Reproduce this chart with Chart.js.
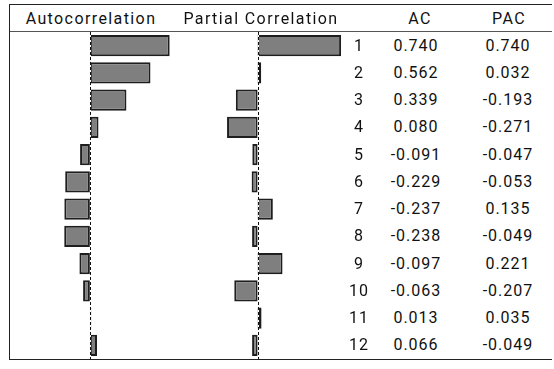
<!DOCTYPE html>
<html>
<head>
<meta charset="utf-8">
<script src="https://cdn.jsdelivr.net/npm/chart.js@4/dist/chart.umd.min.js"></script>
<style>
  html, body { margin:0; padding:0; background:#fff; }
  body { width:554px; height:369px; position:relative; overflow:hidden;
         font-family: Roboto, "DejaVu Sans", sans-serif; color:#111; }
  .line { position:absolute; background:#222; }
  .txt { position:absolute; font-size:16px; letter-spacing:1px; white-space:nowrap;
         transform:translate(-50%,-50%); line-height:1; }
  .hdr { letter-spacing:1.4px; }
  .cv { position:absolute; }
</style>
</head>
<body>
<div class="line" style="left:9px;top:4px;width:543px;height:1.3px;"></div>
<div class="line" style="left:9px;top:31px;width:543px;height:1.3px;background:#555;"></div>
<div class="line" style="left:9px;top:359px;width:543px;height:1.3px;"></div>
<div class="line" style="left:8.5px;top:4px;width:1.6px;height:356px;"></div>

<div class="cv" style="left:9px;top:32px;width:165px;height:327px;"><canvas id="acChart"></canvas></div>
<div class="cv" style="left:173px;top:32px;width:176px;height:327px;"><canvas id="pacChart"></canvas></div>
<div id="texts"></div>

<script>
// ---- data ----
const lags = [1, 2, 3, 4, 5, 6, 7, 8, 9, 10, 11, 12];
const acValues = [0.740, 0.562, 0.339, 0.080, -0.091, -0.229, -0.237, -0.238, -0.097, -0.063, 0.013, 0.066];
const pacValues = [0.740, 0.032, -0.193, -0.271, -0.047, -0.053, 0.135, -0.049, 0.221, -0.207, 0.035, -0.049];
const headers = ["Autocorrelation", "Partial Correlation", "AC", "PAC"];

// ---- text (real HTML text) ----
const texts = document.getElementById('texts');
function addText(str, x, y, cls) {
  const d = document.createElement('div');
  d.className = 'txt' + (cls ? ' ' + cls : '');
  d.textContent = str;
  d.style.left = x + 'px';
  d.style.top = y + 'px';
  texts.appendChild(d);
}
const headerX = [91, 261, 420, 509];
headers.forEach((h, i) => addText(h, headerX[i], 18.5, 'hdr'));
const rowTop = 32, rowH = 327 / lags.length;
lags.forEach((lag, i) => {
  const y = rowTop + rowH * (i + 0.5);
  addText(String(lag), 359, y);
  addText(acValues[i].toFixed(3), 416, y);
  addText(pacValues[i].toFixed(3), 508, y);
});

// ---- charts ----
const zeroLine = {
  id: 'zeroLine',
  afterDatasetsDraw(chart) {
    const ctx = chart.ctx, xs = chart.scales.x, area = chart.chartArea;
    const x = Math.round(xs.getPixelForValue(0)) + 0.5;
    ctx.save();
    ctx.strokeStyle = '#fff';
    ctx.lineWidth = 1;
    ctx.beginPath(); ctx.moveTo(x, area.top); ctx.lineTo(x, area.bottom); ctx.stroke();
    ctx.strokeStyle = '#111';
    ctx.setLineDash([3, 2]);
    ctx.beginPath(); ctx.moveTo(x, area.top); ctx.lineTo(x, area.bottom); ctx.stroke();
    ctx.restore();
  }
};

function makeChart(id, values, min, max) {
  return new Chart(document.getElementById(id), {
    type: 'bar',
    data: {
      labels: lags.map(String),
      datasets: [{
        data: values,
        backgroundColor: '#7f7f7f',
        borderColor: '#1e1e1e',
        borderWidth: 2,
        borderSkipped: false,
        barPercentage: 0.78,
        categoryPercentage: 1.0
      }]
    },
    options: {
      indexAxis: 'y',
      responsive: true,
      maintainAspectRatio: false,
      animation: false,
      layout: { padding: 0 },
      plugins: { legend: { display: false }, tooltip: { enabled: false } },
      scales: {
        x: { type: 'linear', min: min, max: max, display: false },
        y: { type: 'category', display: false, offset: true }
      }
    },
    plugins: [zeroLine]
  });
}
makeChart('acChart', acValues, -0.75, 0.78);
makeChart('pacChart', pacValues, -0.75, 0.81);
</script>
</body>
</html>
